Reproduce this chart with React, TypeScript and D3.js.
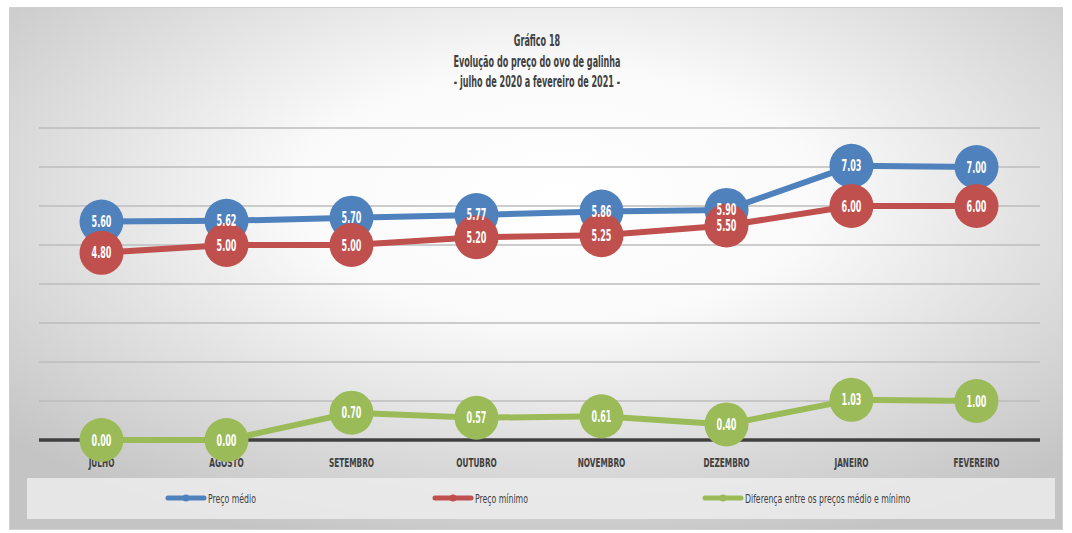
import React from "react";
import * as d3 from "d3";

const months = ["JULHO", "AGOSTO", "SETEMBRO", "OUTUBRO", "NOVEMBRO", "DEZEMBRO", "JANEIRO", "FEVEREIRO"];
const precoMedio = [5.6, 5.62, 5.7, 5.77, 5.86, 5.9, 7.03, 7.0];
const precoMinimo = [4.8, 5.0, 5.0, 5.2, 5.25, 5.5, 6.0, 6.0];
const diferenca = [0.0, 0.0, 0.7, 0.57, 0.61, 0.4, 1.03, 1.0];
const gridTicks = [1, 2, 3, 4, 5, 6, 7, 8];
const titleLines = ["Gráfico 18", "Evolução do preço do ovo de galinha", "- julho de 2020  a fevereiro de 2021 -"];

const series = [
  { name: "Preço médio", values: precoMedio, color: "#4f81bd" },
  { name: "Preço mínimo", values: precoMinimo, color: "#c0504d" },
  { name: "Diferença entre os preços médio e mínimo", values: diferenca, color: "#9bbb59" },
];

const W = 1072;
const H = 533;
const FONT = "'DejaVu Sans Condensed', 'DejaVu Sans', sans-serif";

// condensed text: the original uses a very narrow display face
const CText = ({ x, y, sx, children, ...rest }: any) => (
  <text transform={`translate(${x},${y}) scale(${sx},1)`} fontFamily={FONT} {...rest}>
    {children}
  </text>
);

export default function App() {
  const x = d3.scaleBand<string>().domain(months).range([39, 1039]);
  const y = d3.scaleLinear().domain([0, 8]).range([440, 128]);
  const cx = (i: number) => x(months[i])! + x.bandwidth() / 2;
  const line = d3
    .line<number>()
    .x((_, i) => cx(i))
    .y((d) => y(d));

  const legendX = [168, 435, 705];

  return (
    <svg width={W} height={H} style={{ position: "absolute", left: 0, top: 0 }}>
      <defs>
        <radialGradient id="bg" cx="52%" cy="36%" r="70%">
          <stop offset="0%" stopColor="#ffffff" />
          <stop offset="35%" stopColor="#fafafa" />
          <stop offset="100%" stopColor="#c4c4c4" />
        </radialGradient>
      </defs>
      <rect x={0} y={0} width={W} height={H} fill="#fff" />
      <rect x={9.5} y={7.5} width={1053} height={522} fill="url(#bg)" stroke="#d0d0d0" strokeWidth={1} />

      {titleLines.map((t, i) => (
        <CText key={i} x={537} y={46 + i * 20.5} sx={0.58} fontWeight="bold" fill="#404040" textAnchor="middle" fontSize={15.5}>
          {t}
        </CText>
      ))}

      {gridTicks.map((t) => (
        <line key={t} x1={39} x2={1040} y1={y(t)} y2={y(t)} stroke="#bdbdbd" strokeWidth={1.5} />
      ))}
      <line x1={39} x2={1040} y1={y(0)} y2={y(0)} stroke="#404040" strokeWidth={3.5} />

      {months.map((m, i) => (
        <CText key={m} x={cx(i)} y={467} sx={0.68} textAnchor="middle" fontWeight="bold" fontSize={12} fill="#404040">
          {m}
        </CText>
      ))}

      {series.map((s) => (
        <g key={s.name}>
          <path d={line(s.values) ?? ""} fill="none" stroke={s.color} strokeWidth={6} strokeLinejoin="round" />
          {s.values.map((v, i) => (
            <circle key={i} cx={cx(i)} cy={y(v)} r={22} fill={s.color} />
          ))}
        </g>
      ))}
      {series.map((s) =>
        s.values.map((v, i) => (
          <CText key={s.name + i} x={cx(i)} y={y(v) + 5.5} sx={0.56} textAnchor="middle" fontWeight="bold" fontSize={16} fill="#ffffff">
            {v.toFixed(2)}
          </CText>
        ))
      )}

      <rect x={27} y={478} width={1028} height={41} fill="#ececec" opacity={0.85} />
      {series.map((s, i) => (
        <g key={s.name} transform={`translate(${legendX[i]},498)`}>
          <line x1={0} x2={36} y1={0} y2={0} stroke={s.color} strokeWidth={5} strokeLinecap="round" />
          <circle cx={18} cy={0} r={3.5} fill={s.color} />
          <CText x={40} y={4.5} sx={0.72} fontSize={12} fill="#404040">
            {s.name}
          </CText>
        </g>
      ))}
    </svg>
  );
}
